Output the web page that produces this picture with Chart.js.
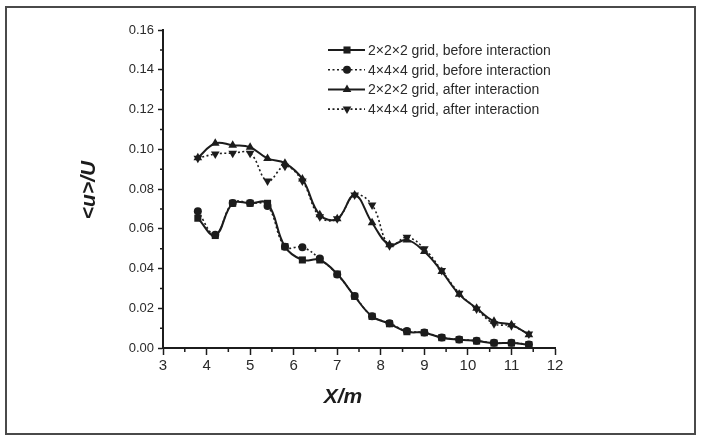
<!DOCTYPE html>
<html>
<head>
<meta charset="utf-8">
<script src="https://cdn.jsdelivr.net/npm/chart.js@4.4.0/dist/chart.umd.min.js"></script>
<style>
    html, body { margin: 0; padding: 0; background: #fff; }
    #wrap { width: 701px; height: 437px; }
</style>
</head>
<body>
<div id="wrap"><canvas id="chart" width="701" height="437"></canvas></div>
<script>
// Distance along the flow (X/m)
const xPositions = [3.8, 4.2, 4.6, 5.0, 5.4, 5.8, 6.2, 6.6, 7.0, 7.4, 7.8, 8.2, 8.6, 9.0, 9.4, 9.8, 10.2, 10.6, 11.0, 11.4];

// <u>/U values
const before2 = [0.0653, 0.0566, 0.0728, 0.0728, 0.0728, 0.0510, 0.0443, 0.0443, 0.0372, 0.0260, 0.0159, 0.0122, 0.0082, 0.0077, 0.0052, 0.0042, 0.0035, 0.0025, 0.0025, 0.0017];
const before4 = [0.0688, 0.0570, 0.0730, 0.0730, 0.0715, 0.0510, 0.0507, 0.0450, 0.0370, 0.0262, 0.0160, 0.0125, 0.0085, 0.0078, 0.0053, 0.0043, 0.0036, 0.0026, 0.0026, 0.0018];
const after2 = [0.0957, 0.1030, 0.1020, 0.1010, 0.0954, 0.0930, 0.0850, 0.0670, 0.0650, 0.0770, 0.0630, 0.0520, 0.0544, 0.0485, 0.0385, 0.0270, 0.0200, 0.0134, 0.0117, 0.0067];
const after4 = [0.0955, 0.0976, 0.0980, 0.0980, 0.0840, 0.0915, 0.0840, 0.0660, 0.0650, 0.0770, 0.0720, 0.0515, 0.0557, 0.0500, 0.0390, 0.0276, 0.0196, 0.0122, 0.0112, 0.0070];

const seriesLabels = [
    '2×2×2 grid, before interaction',
    '4×4×4 grid, before interaction',
    '2×2×2 grid, after interaction',
    '4×4×4 grid, after interaction'
];

const xTitle = 'X/m';
const yTitle = '<u>/U';

const ink = '#1c1c1c';
const fontName = '"Liberation Sans", Arial, sans-serif';

function toPoints(values) {
    return values.map((v, i) => ({ x: xPositions[i], y: v }));
}

function makeSet(label, values, style, dashed, rotation, radius) {
    return {
        label: label,
        data: toPoints(values),
        borderColor: ink,
        backgroundColor: ink,
        borderWidth: dashed ? 1.6 : 2,
        borderDash: dashed ? [2, 2.5] : [],
        pointStyle: style,
        pointRotation: rotation,
        pointRadius: radius,
        pointBorderWidth: 0,
        tension: 0.4,
        fill: false
    };
}

// Frame, minor ticks, axis titles and the line+marker legend
const decorPlugin = {
    id: 'decor',
    afterDraw(chart) {
        const ctx = chart.ctx;
        const xs = chart.scales.x;
        const ys = chart.scales.y;
        ctx.save();

        // picture frame
        ctx.strokeStyle = '#4a4a4a';
        ctx.lineWidth = 2;
        ctx.strokeRect(6, 7, 689, 427);

        // minor ticks
        ctx.strokeStyle = ink;
        ctx.lineWidth = 1.5;
        ctx.beginPath();
        for (let v = 3.5; v < 12; v += 1) {
            const px = xs.getPixelForValue(v);
            ctx.moveTo(px, xs.top);
            ctx.lineTo(px, xs.top + 4);
        }
        for (let i = 1; i < 16; i += 2) {
            const py = ys.getPixelForValue(i * 0.01);
            ctx.moveTo(ys.right - 3, py);
            ctx.lineTo(ys.right, py);
        }
        ctx.stroke();

        // axis titles
        ctx.fillStyle = ink;
        ctx.font = 'italic bold 21px ' + fontName;
        ctx.textAlign = 'center';
        ctx.textBaseline = 'middle';
        ctx.fillText(xTitle, 343, 397);
        ctx.save();
        ctx.translate(89, 190);
        ctx.rotate(-Math.PI / 2);
        ctx.fillText(yTitle, 0, 0);
        ctx.restore();

        // legend
        ctx.font = '14px ' + fontName;
        ctx.textAlign = 'left';
        chart.data.datasets.forEach((ds, i) => {
            const rowY = 50 + i * 19.7;
            ctx.strokeStyle = ink;
            ctx.lineWidth = ds.borderWidth;
            ctx.setLineDash(ds.borderDash);
            ctx.beginPath();
            ctx.moveTo(328, rowY);
            ctx.lineTo(365, rowY);
            ctx.stroke();
            ctx.setLineDash([]);
            ctx.fillStyle = ink;
            Chart.helpers.drawPoint(ctx, {
                pointStyle: ds.pointStyle,
                rotation: ds.pointRotation,
                radius: ds.pointRadius,
                borderWidth: 0
            }, 347, rowY);
            ctx.fillStyle = '#2a2a2a';
            ctx.fillText(ds.label, 368, rowY + 1);
        });

        ctx.restore();
    }
};

const ctx = document.getElementById('chart');
new Chart(ctx.getContext('2d'), {
    type: 'line',
    data: {
        datasets: [
            makeSet(seriesLabels[0], before2, 'rect', false, 0, 5),
            makeSet(seriesLabels[1], before4, 'circle', true, 0, 4),
            makeSet(seriesLabels[2], after2, 'triangle', false, 0, 5),
            makeSet(seriesLabels[3], after4, 'triangle', true, 180, 5)
        ]
    },
    options: {
        responsive: false,
        animation: false,
        layout: { padding: { left: 0, top: 30, right: 146, bottom: 0 } },
        plugins: {
            legend: { display: false },
            tooltip: { enabled: false }
        },
        scales: {
            x: {
                type: 'linear',
                min: 3,
                max: 12,
                afterFit: function(scale) { scale.height = 89; },
                ticks: {
                    stepSize: 1,
                    color: '#2a2a2a',
                    padding: 2,
                    font: { family: fontName, size: 15 }
                },
                grid: {
                    drawOnChartArea: false,
                    tickLength: 7,
                    tickColor: ink,
                    tickWidth: 1.5
                },
                border: { color: ink, width: 2 }
            },
            y: {
                min: 0,
                max: 0.16,
                afterFit: function(scale) { scale.width = 163; },
                ticks: {
                    stepSize: 0.02,
                    color: '#2a2a2a',
                    padding: 4,
                    font: { family: fontName, size: 13 },
                    callback: function(value) { return value.toFixed(2); }
                },
                grid: {
                    drawOnChartArea: false,
                    tickLength: 5,
                    tickColor: ink,
                    tickWidth: 1.5
                },
                border: { color: ink, width: 2 }
            }
        }
    },
    plugins: [decorPlugin]
});
</script>
</body>
</html>
